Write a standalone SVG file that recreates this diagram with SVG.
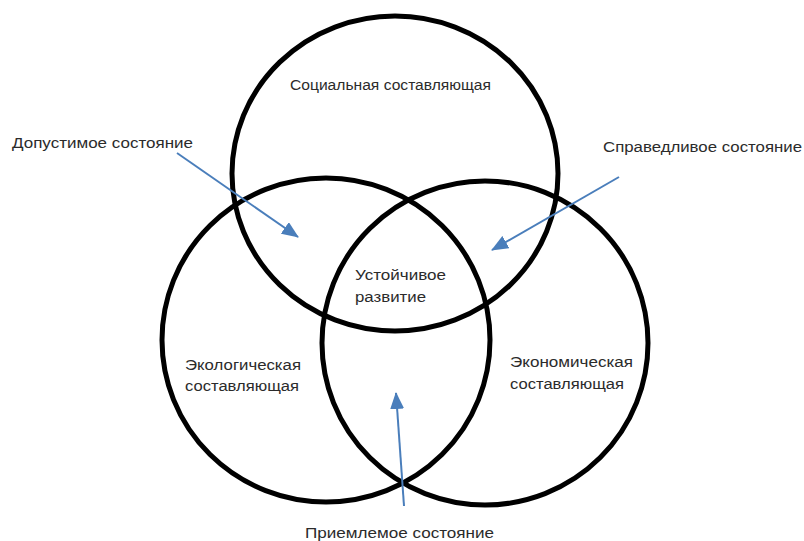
<svg xmlns="http://www.w3.org/2000/svg" width="804" height="541" viewBox="0 0 804 541">
<style>
.c{fill:none;stroke:#000;stroke-width:5}
.t{font-family:"Liberation Sans",Arial,sans-serif;font-size:15.5px;fill:#2b2b2b}
.a{stroke:#4a7ebb;stroke-width:2;fill:none}
</style>
<defs>
<marker id="ah" markerUnits="userSpaceOnUse" markerWidth="18" markerHeight="14" refX="16" refY="7" orient="auto">
<path d="M0,0 L17,7 L0,14 z" fill="#4a7ebb"/>
</marker>
</defs>
<rect width="804" height="541" fill="#fff"/>
<g id="social"><ellipse class="c" cx="395" cy="173.5" rx="163" ry="157.5"/>
<text class="t" x="290" y="90" textLength="201" lengthAdjust="spacingAndGlyphs">Социальная составляющая</text></g>
<g id="ecology"><ellipse class="c" cx="326" cy="340" rx="164" ry="162"/>
<text class="t" x="185" y="370" textLength="116" lengthAdjust="spacingAndGlyphs">Экологическая</text>
<text class="t" x="185" y="391" textLength="114" lengthAdjust="spacingAndGlyphs">составляющая</text></g>
<g id="economy"><ellipse class="c" cx="485" cy="343" rx="163" ry="162"/>
<text class="t" x="510" y="367" textLength="123" lengthAdjust="spacingAndGlyphs">Экономическая</text>
<text class="t" x="510" y="389" textLength="114" lengthAdjust="spacingAndGlyphs">составляющая</text></g>
<g id="center"><text class="t" x="355" y="280" textLength="91" lengthAdjust="spacingAndGlyphs">Устойчивое</text>
<text class="t" x="355" y="302" textLength="71" lengthAdjust="spacingAndGlyphs">развитие</text></g>
<g id="label-dopust"><text class="t" x="12" y="148" textLength="181" lengthAdjust="spacingAndGlyphs">Допустимое состояние</text></g>
<g id="label-sprav"><text class="t" x="603" y="152" textLength="199" lengthAdjust="spacingAndGlyphs">Справедливое состояние</text></g>
<g id="label-priem"><text class="t" x="305" y="538" textLength="189" lengthAdjust="spacingAndGlyphs">Приемлемое состояние</text></g>
<g id="connectors">
<line class="a" x1="177" y1="153" x2="298" y2="237" marker-end="url(#ah)"/>
<line class="a" x1="619" y1="177" x2="492" y2="250" marker-end="url(#ah)"/>
<line class="a" x1="404" y1="506" x2="396" y2="393" marker-end="url(#ah)"/>
</g>
</svg>
